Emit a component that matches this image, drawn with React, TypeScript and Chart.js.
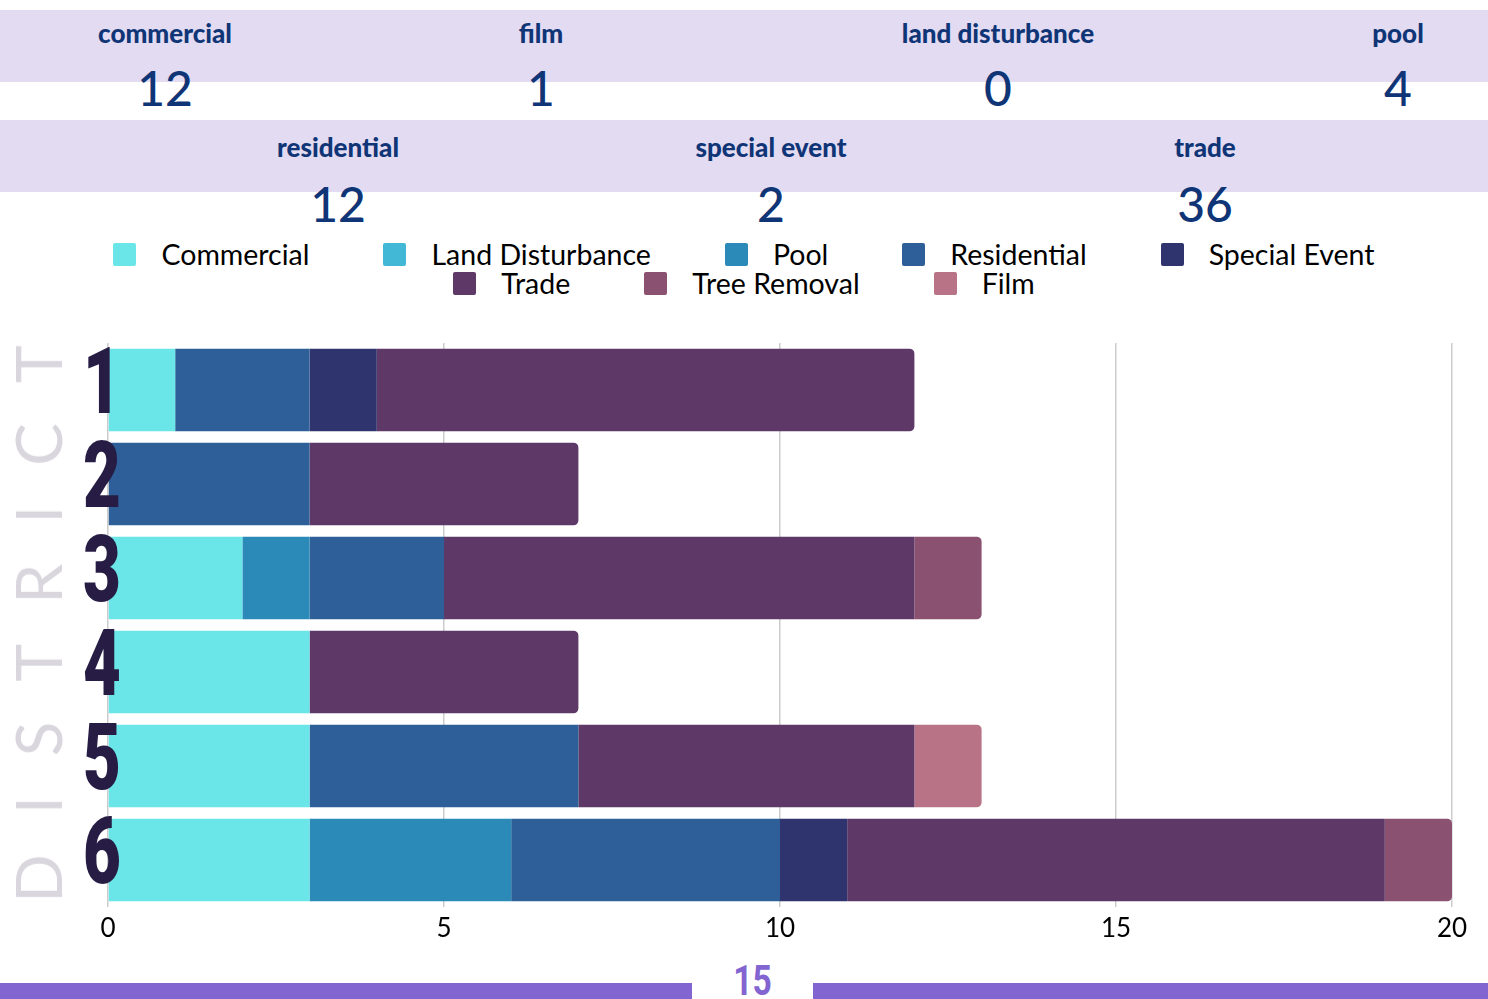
import React, { useEffect, useRef } from "react";
import { Chart, registerables } from "chart.js";

Chart.register(...registerables);

const districts = ["1", "2", "3", "4", "5", "6"];
const seriesNames = ["Commercial", "Land Disturbance", "Pool", "Residential", "Special Event", "Trade", "Tree Removal", "Film"];
const seriesColors = ["#6ae6e8", "#42b8d6", "#2c8ab8", "#2e5f98", "#30346e", "#5e3866", "#8a5170", "#b87386"];
const commercial = [1, 0, 2, 3, 3, 3];
const landDisturbance = [0, 0, 0, 0, 0, 0];
const pool = [0, 0, 1, 0, 0, 3];
const residential = [2, 3, 2, 0, 4, 4];
const specialEvent = [1, 0, 0, 0, 0, 1];
const trade = [8, 4, 7, 4, 5, 8];
const treeRemoval = [0, 0, 1, 0, 0, 1];
const film = [0, 0, 0, 0, 1, 0];
const seriesValues = [commercial, landDisturbance, pool, residential, specialEvent, trade, treeRemoval, film];
const xTicks = [0, 5, 10, 15, 20];

const summaryRow1Labels = ["commercial", "film", "land disturbance", "pool"];
const summaryRow1Values = ["12", "1", "0", "4"];
const summaryRow2Labels = ["residential", "special event", "trade"];
const summaryRow2Values = ["12", "2", "36"];
const footerValue = "15";
const axisTitle = "DISTRICT";

const NAVY = "#0f3577";
const BAND = "#e2dbf2";
const PURPLE = "#8365d1";

const row1X = [165, 541, 998, 1398];
const row2X = [338, 771, 1205];

function lastNonZero(idx: number): number {
  let last = -1;
  seriesValues.forEach((s, k) => {
    if (s[idx] > 0) last = k;
  });
  return last;
}

const yLabelPlugin = {
  id: "yLabels",
  afterDatasetsDraw(chart: any) {
    const ctx = chart.ctx;
    const yScale = chart.scales.y;
    ctx.save();
    ctx.fillStyle = "#261c44";
    ctx.font = "900 92px Roboto, sans-serif";
    ctx.textAlign = "center";
    ctx.textBaseline = "alphabetic";
    districts.forEach((d, i) => {
      const y = yScale.getPixelForValue(i);
      ctx.save();
      ctx.translate(102, y + 23);
      ctx.scale(0.71, 1);
      ctx.fillText(d, 0, 0);
      ctx.restore();
    });
    ctx.restore();
  },
};

function StackedChart() {
  const ref = useRef<HTMLCanvasElement | null>(null);
  useEffect(() => {
    if (!ref.current) return;
    const chart = new Chart(ref.current, {
      type: "bar",
      data: {
        labels: districts,
        datasets: seriesNames.map((name, k) => ({
          label: name,
          data: seriesValues[k],
          backgroundColor: seriesColors[k],
          borderWidth: 0,
          borderSkipped: false,
          borderRadius: (c: any) =>
            lastNonZero(c.dataIndex) === k
              ? { topLeft: 0, bottomLeft: 0, topRight: 5, bottomRight: 5 }
              : 0,
          categoryPercentage: 1,
          barPercentage: 0.88,
        })),
      },
      options: {
        indexAxis: "y",
        animation: false,
        responsive: false,
        layout: { padding: { left: 108, right: 36, top: 23, bottom: 0 } },
        plugins: {
          legend: { display: false },
          tooltip: { enabled: false },
        },
        scales: {
          x: {
            stacked: true,
            min: 0,
            max: 20,
            afterBuildTicks: (scale: any) => {
              scale.ticks = xTicks.map((v) => ({ value: v }));
            },
            afterFit: (scale: any) => {
              scale.height = 40;
            },
            grid: { color: "#cccccc", lineWidth: 1.5, drawTicks: false },
            border: { display: false },
            ticks: {
              color: "#000000",
              padding: 6,
              font: { family: "Lato, sans-serif", size: 26 },
            },
          },
          y: {
            stacked: true,
            display: false,
          },
        },
      } as any,
      plugins: [yLabelPlugin],
    });
    return () => chart.destroy();
  }, []);
  return (
    <canvas
      ref={ref}
      width={1488}
      height={627}
      style={{ position: "absolute", left: 0, top: 320, width: 1488, height: 627 }}
    />
  );
}

function Summary({ labels, values, xs, top, labelOff, valueOff }: { labels: string[]; values: string[]; xs: number[]; top: number; labelOff: number; valueOff: number }) {
  return (
    <>
      <div style={{ position: "absolute", left: 0, top, width: 1488, height: 72, background: BAND }} />
      {labels.map((l, i) => (
        <div
          key={l}
          style={{
            position: "absolute",
            left: xs[i] - 150,
            width: 300,
            top: top + labelOff,
            textAlign: "center",
            font: "900 26px Lato, sans-serif",
            color: NAVY,
            lineHeight: "30px",
          }}
        >
          {l}
        </div>
      ))}
      {values.map((v, i) => (
        <div
          key={i}
          style={{
            position: "absolute",
            left: xs[i] - 150,
            width: 300,
            top: top + valueOff,
            textAlign: "center",
            font: "500 48px Lato, sans-serif",
            color: NAVY,
            lineHeight: "56px",
          }}
        >
          {v}
        </div>
      ))}
    </>
  );
}

function Legend() {
  const rows = [seriesNames.slice(0, 5).map((_, i) => i), seriesNames.slice(5).map((_, i) => i + 5)];
  return (
    <div style={{ position: "absolute", left: 0, top: 240, width: 1488 }}>
      {rows.map((r, ri) => (
        <div key={ri} style={{ display: "flex", justifyContent: "center", gap: 74, height: 29 }}>
          {r.map((k) => (
            <div key={k} style={{ display: "flex", alignItems: "center" }}>
              <div style={{ width: 23, height: 23, borderRadius: 2, background: seriesColors[k], marginRight: 25 }} />
              <span style={{ font: "28.5px Lato, sans-serif", color: "#000", lineHeight: "29px" }}>{seriesNames[k]}</span>
            </div>
          ))}
        </div>
      ))}
    </div>
  );
}

export default function App() {
  return (
    <div style={{ position: "absolute", left: 0, top: 0, width: 1488, height: 999, overflow: "hidden", background: "#fff" }}>
      <Summary labels={summaryRow1Labels} values={summaryRow1Values} xs={row1X} top={10} labelOff={8} valueOff={50} />
      <Summary labels={summaryRow2Labels} values={summaryRow2Values} xs={row2X} top={120} labelOff={12} valueOff={56} />
      <Legend />
      <StackedChart />
      <div
        style={{
          position: "absolute",
          left: 38,
          top: 624,
          transform: "translate(-50%, -50%) rotate(-90deg)",
          font: "400 64px Lato, sans-serif",
          letterSpacing: 40,
          paddingLeft: 40,
          color: "#d9d6de",
          whiteSpace: "nowrap",
          lineHeight: "64px",
        }}
      >
        {axisTitle}
      </div>
      <div style={{ position: "absolute", left: 0, top: 983, width: 692, height: 16, background: PURPLE }} />
      <div style={{ position: "absolute", left: 813, top: 983, width: 675, height: 16, background: PURPLE }} />
      <div
        style={{
          position: "absolute",
          left: 692,
          width: 121,
          top: 958,
          textAlign: "center",
          font: "700 42px Roboto, sans-serif",
          color: PURPLE,
          lineHeight: "46px",
          transform: "scaleX(0.8)",
        }}
      >
        {footerValue}
      </div>
    </div>
  );
}
